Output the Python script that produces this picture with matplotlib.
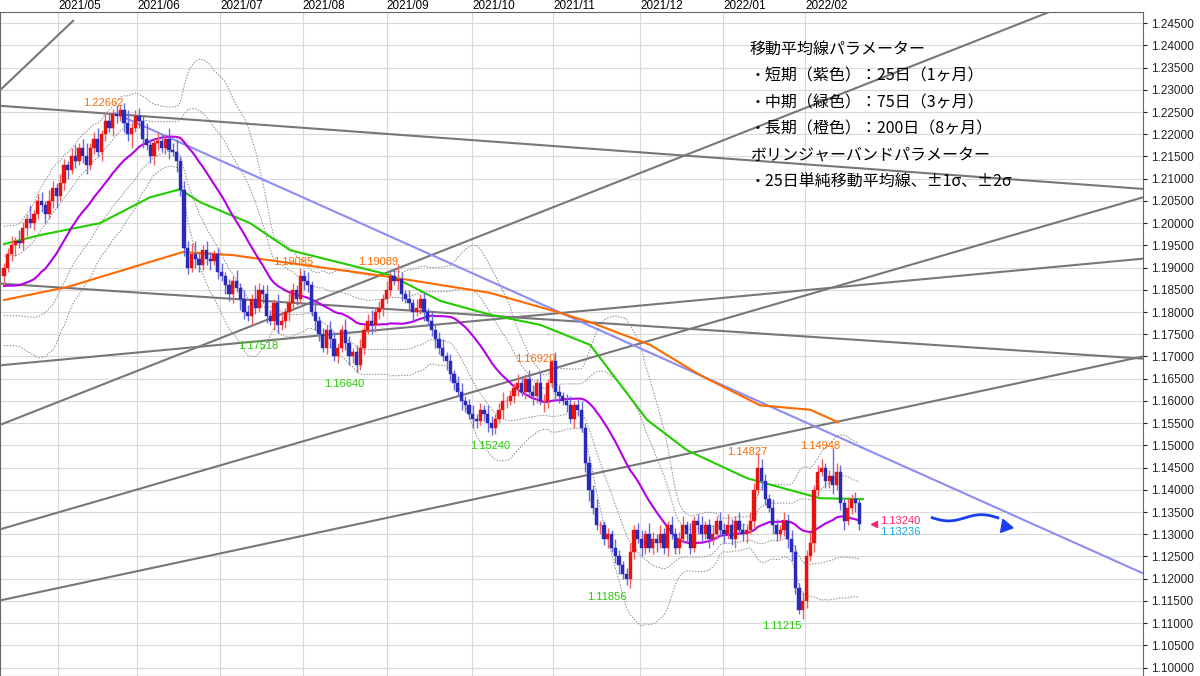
import numpy as np
import matplotlib
matplotlib.use("Agg")
import matplotlib.pyplot as plt

# ---------------- data (pips above 1.1000) ----------------
pre_closes = [915, 950, 955, 930, 925, 930, 915, 915, 860, 815, 845, 780,
              790, 765, 730, 765, 760, 780, 825, 860, 875, 895, 905, 880]
closes = [
    900, 930, 950, 960, 955, 990, 1010, 1000, 1020, 1050,
    1040, 1020, 1050, 1080, 1060, 1090, 1130, 1120, 1150, 1140,
    1170, 1150, 1130, 1170, 1190, 1160, 1200, 1230, 1215, 1245,
    1240, 1255, 1225, 1200, 1215, 1240, 1230, 1190, 1175, 1150,
    1180, 1185, 1170, 1190, 1165, 1160, 1140, 1075, 945, 900,
    930, 920, 905, 940, 920, 915, 930, 890, 880, 860,
    840, 870, 855, 830, 800, 790, 830, 810, 850, 840,
    790, 780, 820, 770, 780, 800, 820, 850, 830, 880,
    870, 860, 800, 780, 750, 720, 760, 740, 700, 720,
    760, 730, 700, 710, 680, 720, 760, 780, 770, 800,
    810, 830, 850, 880, 870, 875, 840, 830, 820, 800,
    810, 830, 800, 780, 760, 740, 720, 700, 690, 660,
    640, 620, 600, 590, 570, 560, 555, 580, 570, 550,
    540, 560, 580, 600, 600, 610, 630, 640, 620, 650,
    620, 610, 640, 600, 600, 640, 690, 620, 610, 600,
    590, 560, 590, 580, 540, 460, 400, 360, 320, 320,
    290, 300, 270, 250, 230, 210, 200, 260, 310, 290,
    270, 300, 270, 290, 280, 300, 270, 320, 300, 270,
    290, 320, 300, 270, 330, 320, 300, 320, 290, 300,
    330, 310, 300, 320, 290, 330, 310, 300, 310, 330,
    400, 450, 420, 380, 360, 320, 300, 310, 330, 290,
    260, 180, 130, 150, 250, 280, 400, 440, 450, 420,
    430, 410, 440, 370, 330, 360, 380, 370, 324]
wick_up = [
    10, 15, 20, 8, 25, 12, 10, 30, 10, 15, 20, 10, 25, 15, 10, 20, 15, 10, 20, 25,
    10, 20, 30, 10, 15, 25, 10, 20, 15, 12, 20, 11, 15, 30, 10, 15, 20, 10, 35, 15,
    10, 20, 15, 10, 25, 15, 30, 10, 20, 15, 25, 30, 15, 10, 20, 15, 10, 15, 20, 10,
    15, 10, 25, 10, 20, 15, 10, 30, 15, 10, 20, 15, 10, 20, 15, 10, 25, 15, 10, 20,
    15, 20, 10, 25, 10, 15, 10, 20, 15, 10, 10, 25, 15, 10, 15, 20, 10, 15, 25, 10,
    15, 10, 20, 10, 15, 34, 15, 10, 20, 10, 20, 10, 15, 10, 20, 10, 15, 20, 10, 15,
    10, 15, 20, 10, 15, 20, 10, 15, 10, 20, 15, 10, 15, 20, 10, 15, 10, 20, 15, 10,
    20, 15, 10, 25, 15, 10, 2, 20, 15, 10, 15, 20, 10, 15, 20, 10, 15, 10, 20, 10,
    10, 15, 10, 20, 15, 10, 15, 20, 10, 15, 20, 10, 25, 15, 10, 20, 15, 10, 20, 15,
    15, 20, 10, 25, 10, 15, 20, 10, 15, 20, 10, 20, 15, 25, 15, 10, 20, 15, 10, 20,
    15, 33, 20, 15, 10, 20, 15, 10, 20, 15, 20, 15, 10, 20, 15, 25, 10, 15, 20, 10,
    15, 65, 20, 15, 10, 20, 10, 15, 10]
wick_dn = [
    20, 10, 15, 25, 10, 15, 20, 10, 15, 10, 15, 20, 10, 15, 25, 10, 15, 20, 10, 15,
    10, 15, 20, 10, 15, 10, 20, 15, 10, 20, 15, 10, 20, 15, 30, 10, 15, 20, 10, 15,
    20, 15, 10, 15, 20, 10, 25, 15, 20, 15, 10, 20, 15, 10, 15, 20, 10, 15, 10, 20,
    15, 20, 10, 25, 15, 10, 20, 15, 10, 20, 15, 10, 20, 18, 10, 15, 20, 10, 15, 10,
    20, 15, 10, 20, 15, 10, 15, 20, 10, 15, 10, 15, 20, 15, 16, 10, 15, 10, 20, 15,
    15, 20, 10, 15, 10, 20, 15, 10, 15, 20, 10, 15, 20, 10, 15, 20, 15, 10, 20, 15,
    15, 10, 20, 15, 10, 20, 15, 10, 15, 20, 16, 15, 10, 20, 15, 10, 15, 20, 10, 15,
    10, 20, 15, 10, 25, 15, 10, 20, 15, 10, 15, 10, 20, 15, 10, 20, 25, 15, 10, 20,
    15, 20, 10, 15, 20, 10, 14, 20, 15, 10, 20, 15, 10, 15, 20, 10, 15, 20, 10, 15,
    15, 10, 20, 15, 10, 20, 15, 10, 20, 15, 10, 15, 20, 10, 15, 20, 10, 15, 20, 10,
    15, 10, 20, 15, 10, 20, 15, 10, 15, 20, 20, 15, 9, 20, 15, 10, 20, 15, 10, 15,
    15, 20, 10, 15, 20, 10, 15, 20, 15]

# 75-day and 200-day MA read as key points (index, pips)
ma75_idx = [0, 9.6, 25.6, 38.9, 46.9, 52.3, 65.6, 76.3, 102.9, 116.3, 129.6, 143,
            156.3, 171.5, 182.1, 198.1, 211.5, 217.6, 229]
ma75_val = [953, 973, 1000, 1058, 1076, 1047, 1000, 939, 883, 825, 794, 771,
            726, 557, 489, 426, 395, 381, 379]
ma200_idx = [0, 16.8, 34.4, 47.7, 61, 76.3, 102.9, 129.6, 147.5, 156.3, 172.3,
             185.6, 201.6, 215, 222.4]
ma200_val = [827, 856, 901, 935, 928, 910, 879, 843, 800, 777, 726, 658, 590,
             580, 552]

# trend lines: (x0, y0, x1, y1) in (index, price)
grey_lines = [(-1.07, 1.2264, 303.7, 1.2077),
              (-1.07, 1.2299, 18.4, 1.2455),
              (-1.07, 1.1864, 303.7, 1.1695),
              (-1.07, 1.1680, 303.7, 1.1920),
              (-1.07, 1.1546, 303.7, 1.2558),
              (-1.07, 1.1311, 303.7, 1.2058),
              (-1.07, 1.1151, 303.7, 1.1700)]
blue_line = (29.6, 1.2247, 303.7, 1.1212)

months = ["2021/05", "2021/06", "2021/07", "2021/08", "2021/09", "2021/10",
          "2021/11", "2021/12", "2022/01", "2022/02"]
month_pos = [14.4, 35.5, 57.6, 79.7, 102.0, 124.8, 146.4, 169.6, 191.7, 213.6]

labels = [("1.22662", 26.4, 1.2270, "#ff6a00"), ("1.19085", 77, 1.1912, "#ff6a00"),
          ("1.19089", 99.7, 1.1912, "#ff6a00"), ("1.17518", 67.7, 1.1723, "#22cc00"),
          ("1.16640", 90.7, 1.1638, "#22cc00"), ("1.15240", 129.6, 1.1498, "#22cc00"),
          ("1.16920", 141.6, 1.1694, "#ff6a00"), ("1.11856", 160.8, 1.1159, "#22cc00"),
          ("1.14827", 198.1, 1.1485, "#ff6a00"), ("1.14948", 217.6, 1.1498, "#ff6a00"),
          ("1.11215", 207.5, 1.1093, "#22cc00")]

info = ["移動平均線パラメーター", "・短期（紫色）：25日（1ヶ月）", "・中期（緑色）：75日（3ヶ月）",
        "・長期（橙色）：200日（8ヶ月）", "ボリンジャーバンドパラメーター",
        "・25日単純移動平均線、±1σ、±2σ"]

# ---------------- plot ----------------
plt.rcParams['font.family'] = ['Liberation Sans', 'DejaVu Sans']
fig = plt.figure(figsize=(12, 6.76), dpi=100)
ax = fig.add_axes([0.0, 0.0, 1143 / 1200, 1 - 12 / 676])

c = 1.1 + np.array(closes) / 10000
n = len(c)
allc = np.concatenate([1.1 + np.array(pre_closes) / 10000, c])
o = np.concatenate([[allc[len(pre_closes) - 1]], c[:-1]])
wu = np.resize(np.array(wick_up), n) / 10000
wd = np.resize(np.array(wick_dn), n) / 10000
hi = np.maximum(o, c) + wu
lo = np.minimum(o, c) - wd
x = np.arange(n)

ymin, ymax = 1.0981, 1.2475
ax.set_xlim(-1.07, 303.7)
ax.set_ylim(ymin, ymax)
ticks = np.arange(1.100, 1.2451, 0.005)
for t in ticks:
    ax.axhline(t, color="#d9d9d9", lw=0.8, zorder=0)
for p in month_pos:
    ax.axvline(p, color="#d9d9d9", lw=0.8, zorder=0)

# bollinger + 25 MA
w = 25
s = np.array([allc[i - w + 1:i + 1].mean() for i in range(len(pre_closes), len(allc))])
sd = np.array([allc[i - w + 1:i + 1].std() for i in range(len(pre_closes), len(allc))])
for k in (-2, -1, 1, 2):
    ax.plot(x, s + k * sd, color="#888888", lw=0.7, ls=(0, (1.5, 1.5)), zorder=2)

for t in grey_lines:
    ax.plot([t[0], t[2]], [t[1], t[3]], color="#777777", lw=1.5, zorder=3)
ax.plot([blue_line[0], blue_line[2]], [blue_line[1], blue_line[3]], color="#8c8cf5", lw=1.5, zorder=3)

ax.plot(np.array(ma200_idx), 1.1 + np.array(ma200_val) / 10000, color="#ff6a00", lw=1.5, zorder=4)
ax.plot(np.array(ma75_idx), 1.1 + np.array(ma75_val) / 10000, color="#22cc00", lw=1.5, zorder=4)
ax.plot(x, s, color="#b400e6", lw=1.5, zorder=4)

up = c >= o
colors = np.where(up, "#e8130f", "#2a2ab8")
wcol = np.where(up, "#f06060", "#6a6ae0")
ax.vlines(x, lo, hi, colors=wcol, lw=1.0, zorder=5)
ax.bar(x, np.maximum(np.abs(c - o), 0.00008), bottom=np.minimum(o, c), width=0.85,
       color=colors, edgecolor=colors, linewidth=0.3, zorder=6)

for txt, xi, yi, col in labels:
    ax.text(xi, yi, txt, color=col, fontsize=8, ha="center", va="center", zorder=7)

ax.plot([232.0], [1.1324], marker="<", color="#ff2266", ms=5, zorder=7)
ax.text(233.5, 1.1330, "1.13240", color="#ff2266", fontsize=8, va="center")
ax.text(233.5, 1.1305, "1.13236", color="#11aaee", fontsize=8, va="center")

# wavy arrow
wx = np.linspace(247.5, 265, 60)
wy = 1.1337 - 0.0007 * np.sin((wx - 247.5) / 17.5 * 2 * np.pi)
ax.plot(wx, wy, color="#1a3ff0", lw=2, zorder=7)
ax.plot([267], [1.1318], marker=(3, 0, -100), color="#1a3ff0", ms=11, zorder=7)

for i, line in enumerate(info):
    ax.text(198.8, 1.2390 - i * 0.00595, line, fontsize=11.5, va="center",
            family=['Noto Sans CJK JP', 'DejaVu Sans'], zorder=8)

ax.yaxis.tick_right()
ax.set_yticks(ticks)
ax.set_yticklabels([f"{t:.5f}" for t in ticks], fontsize=8.5)
ax.tick_params(axis="y", length=3, pad=3, colors="#222222")
ax.set_xticks([])
for m, p in zip(months, month_pos):
    ax.text(p, ymax, m, fontsize=8.5, ha="left", va="bottom")
for sp in ax.spines.values():
    sp.set_color("#666666")
    sp.set_linewidth(0.8)

fig.savefig("out.png", dpi=100)
